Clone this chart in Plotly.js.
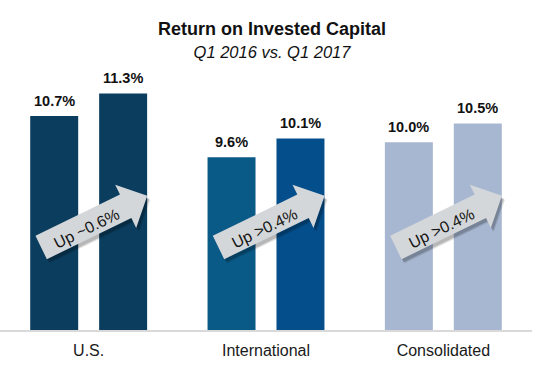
<!DOCTYPE html>
<html><head><meta charset="utf-8">
<script src="https://cdn.plot.ly/plotly-3.0.1.min.js"></script>
<style>html,body{margin:0;padding:0;background:#fff}</style>
</head><body><div id="chart" style="width:544px;height:378px"></div>
<script>
const categories = ['U.S.', 'International', 'Consolidated'];
const seriesNames = ['Q1 2016', 'Q1 2017'];
const q1_2016 = [10.7, 9.6, 10.0];
const q1_2017 = [11.3, 10.1, 10.5];
const changeLabels = ['Up ~0.6%', 'Up >0.4%', 'Up >0.4%'];
const colors2016 = ['#0b3d5e', '#0a5a88', '#a7b7d1'];
const colors2017 = ['#0b3d5e', '#044f8b', '#a7b7d1'];

const FONT = 'Liberation Sans, Arial, Helvetica, sans-serif';
const W = 544, H = 378;
const M = {l: 0, r: 12, t: 80, b: 48};
const plotW = W - M.l - M.r, plotH = H - M.t - M.b;

const traces = [q1_2016, q1_2017].map((vals, s) => ({
  type: 'bar', name: seriesNames[s], x: categories, y: vals,
  marker: {color: s === 0 ? colors2016 : colors2017, line: {width: 0}},
  hoverinfo: 'none'
}));

const slotHalf = plotW / 3 * (1 - 0.2225) / 4; // half of the per-trace slot
const annotations = [];
[q1_2016, q1_2017].forEach((vals, s) => {
  vals.forEach((v, i) => {
    annotations.push({
      x: categories[i], y: v, xref: 'x', yref: 'y',
      xshift: s === 0 ? -slotHalf : slotHalf, yshift: 5,
      xanchor: 'center', yanchor: 'bottom', showarrow: false,
      text: '<b>' + v.toFixed(1) + '%</b>',
      font: {family: FONT, size: 14.5, color: '#111'}
    });
  });
});

// Block arrows (decoration) drawn in pixel offsets around each group centre
const theta = 26 * Math.PI / 180;
const pts = [[0,13],[94,13],[94,24],[118,0],[94,-24],[94,-13],[0,-13]];
function arrowPath(ox, oy) {
  return pts.map((p, k) => {
    const u = p[0], v = p[1];
    const x = -47.5 + ox + u * Math.cos(theta) - v * Math.sin(theta);
    const y = oy + u * Math.sin(theta) + v * Math.cos(theta);
    return (k === 0 ? 'M' : 'L') + x.toFixed(1) + ',' + y.toFixed(1);
  }).join(' ') + ' Z';
}
const shapes = [];
const arrowY = (H - M.b - 247.5) / plotH;
const textY = (H - M.b - 228) / plotH;
categories.forEach((c, i) => {
  const gx = (i + 0.5) / 3;
  [[3, -4, 'rgba(0,0,0,0.12)'], [2, -3, 'rgba(0,0,0,0.18)'], [0, 0, '#d4d7da']].forEach(([dx, dy, col]) => {
    shapes.push({
      type: 'path', xref: 'paper', yref: 'paper',
      xsizemode: 'pixel', ysizemode: 'pixel', xanchor: gx, yanchor: arrowY,
      path: arrowPath(dx, dy), fillcolor: col, line: {width: 0}, layer: 'above'
    });
  });
  annotations.push({
    x: gx, y: textY, xref: 'paper', yref: 'paper', xshift: -2,
    xanchor: 'center', yanchor: 'middle',
    showarrow: false, textangle: -26, text: changeLabels[i],
    font: {family: FONT, size: 16, color: '#141414'}
  });
});

const layout = {
  width: W, height: H, margin: M,
  paper_bgcolor: '#fff', plot_bgcolor: '#fff',
  showlegend: false, barmode: 'group', bargap: 0.2225, bargroupgap: 0.304,
  title: {
    text: '<b>Return on Invested Capital</b><br><i><span style="font-size:16.5px">Q1 2016 vs. Q1 2017</span></i>',
    font: {family: FONT, size: 18, color: '#111'},
    x: 0.5, xref: 'container', y: 1 - 35 / H, yref: 'container', yanchor: 'top'
  },
  xaxis: {
    type: 'category', showline: true, linecolor: '#d9d9d9', linewidth: 1.5,
    ticks: '', showgrid: false, zeroline: false, ticklabelstandoff: 5,
    tickfont: {family: FONT, size: 16, color: '#1a1a1a'}
  },
  yaxis: {range: [4.99, 11.66], visible: false, showgrid: false, zeroline: false},
  annotations: annotations, shapes: shapes
};

Plotly.newPlot('chart', traces, layout, {displayModeBar: false, staticPlot: true});
</script></body></html>
